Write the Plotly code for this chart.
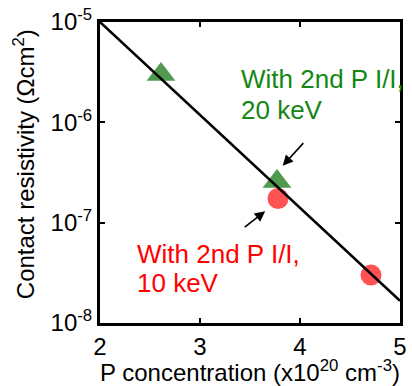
import numpy as np
import plotly.graph_objects as go

# Data
green_x = [2.61, 3.77]
green_y = [3.0e-6, 2.57e-7]
red_x = [3.78, 4.71]
red_y = [1.74e-7, 3.0e-8]
fit_x = [2.0, 5.0]
fit_y = [1.0e-5, 1.66e-8]

x_ticks = [2, 3, 4, 5]
y_tickvals = [1e-8, 1e-7, 1e-6, 1e-5]
y_ticktext = ["10<sup>-8</sup>", "10<sup>-7</sup>", "10<sup>-6</sup>", "10<sup>-5</sup>"]

green_lines = ["With 2nd P I/I,", "20 keV"]
green_line_y = [10 ** -5.566, 10 ** -5.876]
green_x_left = 3.39
red_lines = ["With 2nd P I/I,", "10 keV"]
red_line_y = [10 ** -7.308, 10 ** -7.598]
red_x_left = 2.35
arrow_heads = [(3.827, 3.70e-7, 22, -24), (3.652, 1.30e-7, -22, 17)]

y_title = "Contact resistivity (Ωcm<sup>2</sup>)"
x_title = "P concentration (x10<sup>20</sup> cm<sup>-3</sup>)"

FONT = "Liberation Sans, Arial, sans-serif"

fig = go.Figure()
fig.add_trace(go.Scatter(x=red_x, y=red_y, mode="markers",
                         marker=dict(symbol="circle", size=21, color="rgb(255,0,0)", opacity=0.68,
                                     line=dict(width=0)),
                         showlegend=False))
fig.add_trace(go.Scatter(x=green_x, y=green_y, mode="markers",
                         marker=dict(symbol="triangle-up", size=25, color="rgb(20,120,20)", opacity=0.75,
                                     line=dict(width=0)),
                         showlegend=False))
fig.add_trace(go.Scatter(x=fit_x, y=fit_y, mode="lines",
                         line=dict(color="black", width=2.6), showlegend=False))

anns = []
for txt, yy in zip(green_lines, green_line_y):
    anns.append(dict(x=green_x_left, y=np.log10(yy), xref="x", yref="y",
                     text=txt, showarrow=False, xanchor="left", yanchor="middle", align="left",
                     font=dict(family=FONT, size=26, color="rgb(20,135,20)")))
for txt, yy in zip(red_lines, red_line_y):
    anns.append(dict(x=red_x_left, y=np.log10(yy), xref="x", yref="y",
                     text=txt, showarrow=False, xanchor="left", yanchor="middle", align="left",
                     font=dict(family=FONT, size=26, color="rgb(255,0,0)")))
for hx, hy, ax, ay in arrow_heads:
    anns.append(dict(x=hx, y=np.log10(hy), xref="x", yref="y", ax=ax, ay=ay, text="",
                     showarrow=True, arrowhead=2, arrowsize=1.3, arrowwidth=1.6, arrowcolor="black"))
# y-axis title placed as rotated text
anns.append(dict(x=-0.255, y=0.526, xref="paper", yref="paper", text=y_title, textangle=-90,
                 showarrow=False, xanchor="center", yanchor="middle",
                 font=dict(family=FONT, size=24, color="black")))

fig.update_layout(
    width=412, height=386,
    margin=dict(l=100, r=5, t=13, b=63),
    paper_bgcolor="white", plot_bgcolor="white",
    font=dict(family=FONT, size=24, color="black"),
    annotations=anns,
)
fig.update_xaxes(range=[2, 5], tickvals=x_ticks, ticks="inside", ticklen=5, tickwidth=2,
                 tickcolor="black", showline=True, linewidth=3, linecolor="black", mirror="ticks",
                 showgrid=False, zeroline=False, tickfont=dict(size=24), ticklabeloverflow="allow",
                 title=dict(text=x_title, font=dict(size=24), standoff=2))
fig.update_yaxes(type="log", range=[-8.0005, -4.9995], tickvals=y_tickvals, ticktext=y_ticktext,
                 ticks="inside", ticklen=5, tickwidth=2, tickcolor="black",
                 showline=True, linewidth=3, linecolor="black", mirror="ticks",
                 showgrid=False, zeroline=False, tickfont=dict(size=24), ticklabeloverflow="allow")

fig.write_html("out.html")
